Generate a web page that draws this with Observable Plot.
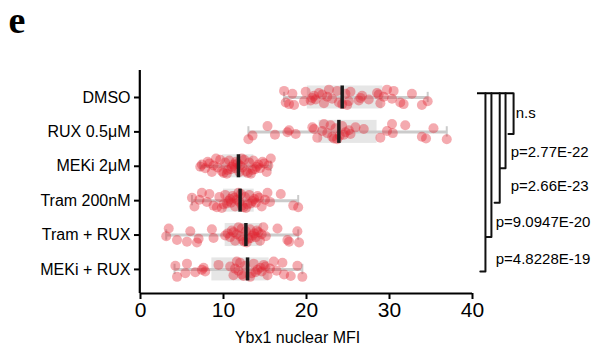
<!DOCTYPE html>
<html>
<head>
<meta charset="utf-8">
<script src="https://cdn.jsdelivr.net/npm/d3@7"></script>
<script src="https://cdn.jsdelivr.net/npm/@observablehq/plot@0.6"></script>
<style>
  html, body { margin: 0; padding: 0; background: #fff; }
  #chart { width: 594px; height: 351px; }
</style>
</head>
<body>
<div id="chart"></div>
<script>
// ---- data ----
const categories = ["DMSO", "RUX 0.5μM", "MEKi 2μM", "Tram 200nM", "Tram + RUX", "MEKi + RUX"];

const dmso = [17.3, 17.5, 17.9, 18.3, 18.5, 19.7, 19.9, 20.5, 20.7, 20.9, 21.1, 21.5, 21.9, 22.1, 22.5, 22.7, 23.1, 23.7, 23.9, 24.3,
  24.7, 24.9, 25.1, 25.3, 26.3, 26.5, 26.7, 27.5, 28.5, 28.7, 28.9, 29.3, 29.7, 30.3, 30.5, 31.3, 31.7, 32.7, 33.9, 34.6];
const rux = [13.0, 13.5, 15.3, 16.2, 17.7, 17.9, 18.7, 20.7, 20.9, 21.3, 21.9, 22.1, 22.5, 22.9, 23.1, 23.3, 23.5, 23.7, 24.0, 24.3,
  24.5, 24.7, 25.1, 25.3, 25.9, 26.9, 28.9, 29.7, 30.3, 30.4, 31.9, 33.9, 34.4, 35.3, 36.9];
const meki = [7.2, 7.4, 7.8, 8.1, 8.3, 8.6, 8.8, 9.1, 9.3, 9.6, 9.8, 10.0, 10.2, 10.4, 10.5, 10.7, 10.9, 11.0, 11.2, 11.4, 11.5,
  11.7, 11.9, 12.0, 12.2, 12.3, 12.5, 12.7, 12.9, 13.1, 13.3, 13.5, 13.6, 13.8, 14.0, 14.2, 14.4, 14.7, 14.9, 15.2, 15.4, 15.7];
const tram = [6.2, 6.5, 7.1, 7.4, 8.0, 8.3, 8.8, 9.2, 9.5, 9.8, 10.0, 10.2, 10.4, 10.6, 10.8, 10.9, 11.1, 11.3, 11.4, 11.6, 11.8,
  11.9, 12.1, 12.2, 12.4, 12.6, 12.7, 12.9, 13.1, 13.3, 13.5, 13.7, 13.9, 14.1, 14.3, 14.6, 15.0, 15.3, 15.6, 16.9, 18.4, 19.0];
const tramRux = [3.1, 3.4, 4.4, 5.6, 6.0, 6.8, 7.0, 8.6, 8.8, 10.2, 10.5, 10.8, 11.0, 11.2, 11.4, 11.6, 11.8, 12.0, 12.2, 12.3,
  12.5, 12.7, 12.8, 13.0, 13.2, 13.3, 13.5, 13.7, 13.9, 14.0, 14.2, 14.4, 14.6, 14.8, 15.1, 16.5, 17.7, 17.9, 18.9, 19.1];
const mekiRux = [4.2, 4.4, 5.4, 5.6, 6.6, 7.4, 7.6, 7.8, 9.4, 10.8, 11.2, 11.4, 11.6, 11.8, 12.0, 12.2, 12.4, 12.6, 13.2, 13.4,
  13.65, 13.85, 14.1, 14.45, 14.6, 14.85, 15.06, 15.3, 15.6, 16.05, 16.4, 17.1, 17.3, 18.1, 18.9, 19.5];
const series = [dmso, rux, meki, tram, tramRux, mekiRux];

// box statistics (whisker low, Q1, median, Q3, whisker high)
const whiskerLow  = [17.3, 13.0, 7.2, 6.2, 3.1, 4.1];
const q1          = [20.1, 21.5, 9.9, 10.0, 10.2, 8.6];
const median      = [24.3, 23.9, 11.8, 12.0, 12.7, 12.9];
const q3          = [29.2, 28.5, 13.65, 13.7, 14.7, 15.5];
const whiskerHigh = [34.6, 36.9, 15.7, 19.0, 19.0, 19.5];

// comparisons vs DMSO
const compareTo = ["RUX 0.5μM", "MEKi 2μM", "Tram 200nM", "Tram + RUX", "MEKi + RUX"];
const pLabels = ["n.s", "p=2.77E-22", "p=2.66E-23", "p=9.0947E-20", "p=4.8228E-19"];

const xTicks = [0, 10, 20, 30, 40];
const xLabel = "Ybx1 nuclear MFI";
const panelLabel = "e";

// ---- build tables ----
const idx = c => categories.indexOf(c);
const jitterPattern = [-0.8, 0.35, -0.1, 0.9, -0.55, 0.6, 0.05, -0.95, 0.45, -0.35, 0.8, -0.2, 0.15, -0.7, 0.7, -0.45, 0.25];
const maxJ = 0.24;
const points = series.flatMap((vals, i) => vals.map((v, j) => ({i, v, jit: jitterPattern[(j * 5 + i * 3) % jitterPattern.length] * maxJ})));
const stats = categories.map((c, i) => ({i, lo: whiskerLow[i], q1: q1[i], med: median[i], q3: q3[i], hi: whiskerHigh[i]}));

const boxH = 0.335, capH = 0.15;
// bracket layout (x in data units beyond the axis)
const bracketX = [44.95, 43.98, 43.28, 42.28, 41.56];
const topY = -0.125;
const brackets = compareTo.map((c, k) => ({k, target: idx(c), x: bracketX[k], label: pLabels[k]}));
const bracketPaths = brackets.flatMap(b => {
  const yb = b.target + 0.06;
  return [
    {k: b.k, x: b.x, y: topY},
    {k: b.k, x: b.x, y: yb},
    {k: b.k, x: b.x - 0.62, y: yb}
  ];
});
const labelX = [45.2, 44.6, 44.6, 42.8, 42.8];
const labelY = [0.47, 1.6, 2.57, 3.62, 4.7];

const yTop = -0.785, yBottom = 5.70;

const chart = Plot.plot({
  width: 594,
  height: 351,
  marginLeft: 140,
  marginRight: 122,
  marginTop: 70,
  marginBottom: 58,
  x: {domain: [0, 40]},
  y: {domain: [yBottom, yTop]},
  style: {fontFamily: "'Liberation Sans', Arial, Helvetica, sans-serif", color: "#000", background: "#fff"},
  marks: [
    // boxes
    Plot.rect(stats, {x1: "q1", x2: "q3", y1: d => d.i - boxH, y2: d => d.i + boxH, fill: "#e6e6e6"}),
    // whiskers
    Plot.ruleY(stats, {y: "i", x1: "lo", x2: "hi", stroke: "#cbcbcb", strokeWidth: 3}),
    Plot.ruleX(stats, {x: "lo", y1: d => d.i - capH, y2: d => d.i + capH, stroke: "#cbcbcb", strokeWidth: 2}),
    Plot.ruleX(stats, {x: "hi", y1: d => d.i - capH, y2: d => d.i + capH, stroke: "#cbcbcb", strokeWidth: 2}),
    // points
    Plot.dot(points, {x: "v", y: d => d.i + d.jit, r: 5, fill: "#e3202e", fillOpacity: 0.38, stroke: "none"}),
    // medians
    Plot.ruleX(stats, {x: "med", y1: d => d.i - boxH, y2: d => d.i + boxH, stroke: "#1a1a1a", strokeWidth: 3.5}),
    // axes
    Plot.axisX({ticks: xTicks, tickSize: 6, tickPadding: 3, fontSize: 21, strokeWidth: 2, label: null}),
    Plot.axisY({ticks: d3.range(categories.length), tickFormat: i => categories[i], tickSize: 6, tickPadding: 4, fontSize: 16, strokeWidth: 2, label: null}),
    Plot.ruleX([0], {y1: yTop, y2: yBottom, strokeWidth: 2.2, dx: -0.7}),
    Plot.ruleY([yBottom], {x1: 0, x2: 40, strokeWidth: 2.2}),
    Plot.text([xLabel], {frameAnchor: "bottom", dx: -9, dy: 49, fontSize: 16}),
    // significance brackets
    Plot.ruleY([topY], {x1: 40.6, x2: bracketX[0], strokeWidth: 2}),
    Plot.line(bracketPaths, {x: "x", y: "y", z: "k", stroke: "#111", strokeWidth: 2}),
    Plot.text(brackets, {x: d => labelX[d.k], y: d => labelY[d.k], text: "label", textAnchor: "start", fontSize: 15})
  ]
});

d3.select(chart).append("text")
  .attr("x", 17).attr("y", 33)
  .attr("font-family", "'Liberation Serif', 'Times New Roman', serif")
  .attr("font-weight", "bold")
  .attr("font-size", 38)
  .attr("fill", "#000")
  .text(panelLabel);

document.getElementById("chart").appendChild(chart);
</script>
</body>
</html>
